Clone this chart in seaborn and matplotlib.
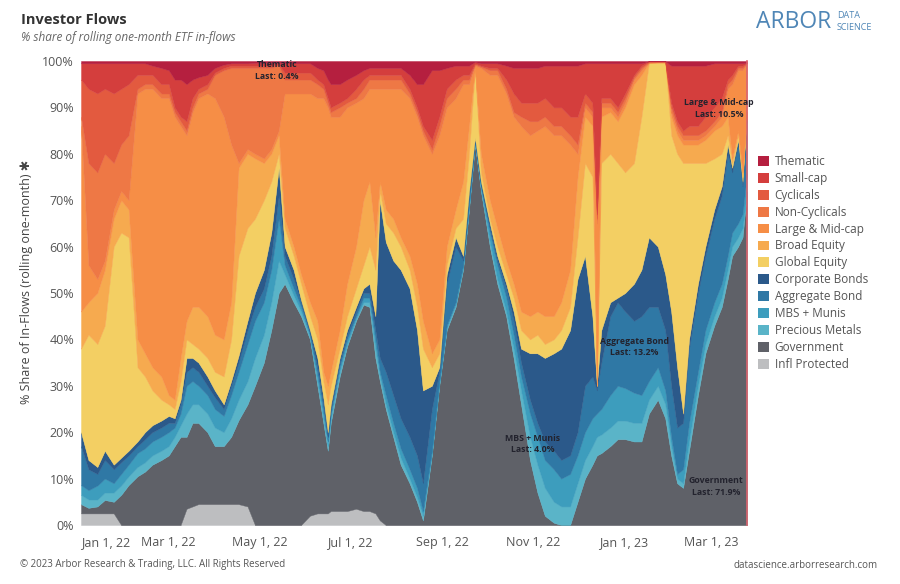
# investor_flows.py
# 100% stacked area of rolling one-month ETF in-flows by category

import pandas as pd
import matplotlib
matplotlib.use("Agg")
import matplotlib.pyplot as plt
from matplotlib.patches import Patch
import seaborn as sns

# ------------------------------
# Data (shares in %)
# ------------------------------
dates = [
    "2022-01-01", "2022-01-06", "2022-01-12", "2022-01-17", "2022-01-23", "2022-01-28", "2022-02-02", "2022-02-08", "2022-02-13", "2022-02-18",
    "2022-02-24", "2022-03-01", "2022-03-05", "2022-03-09", "2022-03-13", "2022-03-17", "2022-03-21", "2022-03-27", "2022-04-01", "2022-04-07",
    "2022-04-12", "2022-04-17", "2022-04-23", "2022-04-28", "2022-05-04", "2022-05-09", "2022-05-14", "2022-05-18", "2022-05-24", "2022-05-29",
    "2022-06-04", "2022-06-09", "2022-06-13", "2022-06-16", "2022-06-18", "2022-06-24", "2022-06-29", "2022-07-05", "2022-07-10", "2022-07-14",
    "2022-07-18", "2022-07-21", "2022-07-25", "2022-07-30", "2022-08-04", "2022-08-10", "2022-08-15", "2022-08-19", "2022-08-25", "2022-08-30",
    "2022-09-04", "2022-09-10", "2022-09-15", "2022-09-19", "2022-09-23", "2022-09-27", "2022-10-03", "2022-10-08", "2022-10-14", "2022-10-19",
    "2022-10-24", "2022-10-30", "2022-11-04", "2022-11-09", "2022-11-15", "2022-11-20", "2022-11-26", "2022-12-01", "2022-12-06", "2022-12-11",
    "2022-12-14", "2022-12-17", "2022-12-23", "2022-12-28", "2023-01-02", "2023-01-08", "2023-01-13", "2023-01-18", "2023-01-24", "2023-01-29",
    "2023-02-02", "2023-02-06", "2023-02-10", "2023-02-14", "2023-02-20", "2023-02-25", "2023-03-03", "2023-03-08", "2023-03-12", "2023-03-15",
    "2023-03-19", "2023-03-22", "2023-03-25",
]

infl_protected = [
    2.5, 2.5, 2.5, 2.5, 2.5, 0, 0, 0, 0, 0,
    0, 0, 0, 0, 3.5, 4, 4.5, 4.5, 4.5, 4.5,
    4.5, 4.5, 4, 0, 0, 0, 0, 0, 0, 0,
    2, 2.5, 2.5, 2.5, 3, 3, 3, 3.5, 3, 3,
    2.5, 1, 0, 0, 0, 0, 0, 0, 0, 0,
    0, 0, 0, 0, 0, 0, 0, 0, 0, 0,
    0, 0, 0, 0, 0, 0, 0, 0, 0, 0,
    0, 0, 0, 0, 0, 0, 0, 0, 0, 0,
    0, 0, 0, 0, 0, 0, 0, 0, 0, 0,
    0, 0, 0,
]
government = [
    2, 1.2, 1.5, 2.9, 2.5, 6.5, 8.6, 10.5, 11.5, 13,
    14, 15, 17, 19, 15.5, 18, 17.5, 15.5, 12.5, 12.5,
    14.5, 18.1, 22, 30, 35, 42, 50, 52, 48, 45,
    38, 27.5, 19.5, 13.5, 19, 29, 35.5, 40.5, 44.5, 44,
    33.5, 30, 25, 19, 13, 9, 5, 1, 15, 30,
    42, 47, 55, 68, 82, 72, 60, 52, 45, 36,
    26, 14, 7, 2, 0.5, 0, 0, 5, 10, 13,
    15, 15.5, 17, 18.5, 18.5, 18, 18, 24, 27, 23,
    15, 9, 8, 16, 28, 37, 43, 47, 53, 58,
    60, 62, 71.9,
]
precious_metals = [
    2, 1.8, 1.5, 1.6, 2, 2, 1.9, 2, 2, 2,
    2, 2, 2, 2.5, 5, 4, 4, 4, 4, 3,
    4, 4.4, 5, 6, 6, 6, 7, 2, 1.5, 1,
    0.5, 1, 1, 1, 1, 1, 0.5, 0.5, 0.5, 1,
    2, 1, 1, 1, 1.5, 1, 1, 1, 0.5, 0.5,
    0.5, 0.5, 0.5, 0.5, 0.3, 0.5, 1, 1, 1, 2,
    3, 5, 6, 6, 4.5, 4, 4, 4, 4, 4,
    4, 4, 4, 4, 4, 4, 4, 3, 3, 3,
    2, 1, 1, 2, 2, 2, 2, 2, 2, 2,
    2, 2, 0,
]
mbs_munis = [
    2.1, 2, 3, 3, 2, 2.5, 2.5, 3, 3, 3,
    3, 3, 2, 2.5, 6, 5, 4, 4, 4, 3.5,
    5, 6, 8, 8, 7, 7, 9, 2, 1.5, 1,
    0.5, 1.5, 1.5, 1, 1, 1, 1, 0.5, 1, 1,
    2, 1, 2, 2, 2, 2, 2, 1, 0.5, 0.5,
    0.5, 0.5, 0.5, 0.5, 0.3, 0.5, 2, 3, 3, 3,
    3, 5, 6, 6, 7, 6, 7, 6, 6, 6,
    5, 5.5, 7, 7.5, 7, 6.5, 6, 4, 4, 3,
    2, 1, 3, 4, 3, 3, 3, 3, 3, 3,
    3, 3, 4,
]
aggregate_bond = [
    8.4, 4.5, 2.5, 4, 3, 2.5, 2, 1.5, 2, 2,
    2, 2, 1, 2, 3, 3, 3, 2, 2.5, 1.5,
    2, 2, 3, 3, 3, 3, 5, 2, 2, 1,
    0.5, 1.5, 1.5, 1, 1, 1, 1, 1, 1, 1,
    2, 3, 5, 6, 6.5, 7, 7, 6, 9, 2,
    9, 12, 1, 2, 0.4, 0.5, 1, 1, 2, 3,
    3, 3, 3, 4, 4, 4, 4, 5, 10, 9,
    5, 10, 17, 18, 16.5, 15.5, 17, 16, 13, 13,
    11, 10, 10, 16, 17, 16, 18, 19, 22, 13,
    17, 6, 13.2,
]
corporate_bonds = [
    3, 2, 1.5, 2, 1, 1, 1, 1, 1.5, 1.5,
    1.5, 1.5, 1, 1, 3, 2, 2, 2, 1.5, 1,
    1, 1.5, 2, 3, 4, 5, 6, 2, 2, 0.5,
    0.5, 2, 1.5, 1, 1, 1, 1, 1, 1, 2,
    3, 34, 28, 29, 32, 32, 27, 20, 5, 1,
    2, 2, 1, 1, 0.5, 0.5, 1, 1, 1, 2,
    3, 10, 15, 18, 21, 24, 27, 33, 28, 13,
    1, 7, 3, 1, 4, 8, 10, 15, 13, 12,
    16, 13, 2, 2, 2, 2, 2, 2, 2, 1,
    1, 1, 0,
]
global_equity = [
    18, 27, 26.5, 27, 47, 48.5, 46, 16, 12, 7.5,
    4.5, 2.5, 2, 4, 4, 3, 3, 4, 4, 6,
    9, 21.5, 20, 16, 15, 11, 3, 4, 3, 3.5,
    3, 4, 3.5, 6, 4, 2, 3, 4, 5, 8,
    10, 2, 4, 6, 5, 4, 5, 9, 4, 3,
    2, 2, 8, 8, 14.5, 2, 1, 2, 2, 3,
    4, 3, 4, 3, 3, 4, 5, 9, 20, 30,
    0, 36, 32, 29, 26, 26, 33, 37.5, 39.6, 45.6,
    38, 46, 54, 38, 26, 18, 11, 7, 2, 1,
    1, 1, 0,
]
broad_equity = [
    8, 7, 11, 12, 6, 7, 6, 6, 5, 5,
    5, 2, 2, 5, 4, 8, 9, 9, 8, 8,
    8, 19, 16, 13, 8, 6, 4, 2, 2, 2,
    3, 4, 2, 4, 3, 4, 7, 9, 14, 14,
    7, 2, 3, 3, 2, 3, 5, 6, 3, 3,
    4, 4, 8, 6, 0.5, 4, 4, 4, 3, 3,
    4, 5, 5, 6, 5, 6, 8, 13, 10, 11,
    0, 10, 9, 9, 14, 17, 9, 0.1, 0.1, 0.1,
    4, 4, 4, 4, 4, 5, 6, 6, 4, 1,
    1, 1, 0,
]
large_mid_cap = [
    40, 8, 3, 2, 2, 2, 2, 53, 57, 60,
    60, 64, 61, 50, 40, 42, 45, 48, 51, 48,
    34, 1, 1, 1, 1, 1, 1, 27, 33, 39,
    45, 48, 59, 60, 55, 46, 38, 31, 22, 20,
    32, 20, 26, 28, 32, 34, 36, 40, 43, 44,
    30, 24, 21, 9, 0.5, 18.5, 27, 33, 36, 36,
    40, 39, 39, 41, 39, 36, 27, 5, 2, 2,
    35, 2, 1, 1, 1, 1, 1, 0.1, 0.1, 0.1,
    1, 1, 1, 1, 1, 1, 1, 2, 6, 16,
    13, 22, 10.5,
]
non_cyclicals = [
    2, 22, 23, 23, 10, 10, 14, 1, 1, 1,
    1, 1, 1, 1, 1, 1, 1, 1, 5, 10,
    16.5, 20.5, 17.5, 18.5, 19.5, 17.5, 14, 3, 3, 3,
    3, 3, 2, 1, 1, 2, 1, 1, 2, 2,
    2, 2, 2, 2, 2, 1, 1, 1, 1, 2,
    2, 2, 1, 1, 0.3, 0.3, 1, 1, 1, 1,
    2, 3, 2, 2, 2, 2, 2, 2, 1, 1,
    1, 1, 1, 1, 1, 0.5, 0.5, 0.1, 0.05, 0.05,
    1, 1, 1, 1, 1, 1, 1, 1, 1, 1,
    0.5, 0.5, 0,
]
cyclicals = [
    8, 16, 17, 14, 15, 12, 11, 3, 2, 2,
    2, 2, 1, 1, 2, 2, 1, 1, 0.5, 0.5,
    0.5, 0.5, 0.5, 0.5, 0.5, 0.5, 0.3, 1.5, 1.5, 1.5,
    1.5, 1, 1, 1, 1, 1, 1, 2, 2, 1,
    1, 1, 1, 1, 1, 1, 1, 1, 2, 2,
    2, 2, 1, 1, 0.2, 0.2, 0.5, 0.5, 2, 4,
    3, 4, 4, 4, 4, 4, 4, 6, 2, 2,
    1, 1, 1, 1, 1, 0.5, 0.5, 0.1, 0.05, 0.05,
    1, 1, 1, 2, 2, 3, 3, 3, 1, 1,
    0.5, 0.5, 0,
]
small_cap = [
    3.5, 5.5, 6.5, 5.5, 6.5, 5.5, 4.5, 2.5, 2.5, 2,
    3.5, 3, 6, 8, 8, 4, 2.5, 2, 1, 0.7,
    0.5, 0.5, 0.5, 0.6, 0.6, 0.6, 0.3, 2, 2, 2,
    2, 2.5, 3, 4, 5, 4, 4, 3, 2, 1.5,
    1.5, 1.5, 1.5, 1.5, 1.5, 3, 5, 9, 15, 10,
    4.5, 3, 2, 2, 0.3, 0.5, 1, 1, 3, 5.5,
    7.5, 7.5, 7.5, 7, 9, 9, 11, 11, 6.5, 8.5,
    32.5, 7.5, 7.5, 9.5, 6.5, 2.5, 0.5, 0.05, 0.05, 0.05,
    8, 12, 14, 13, 13, 11, 9.5, 7.5, 3.5, 2.5,
    0.5, 0.5, 0,
]
thematic = [
    0.5, 0.5, 0.5, 0.5, 0.5, 0.5, 0.5, 0.5, 0.5, 1,
    1.5, 2, 4, 4, 5, 4, 3.5, 3, 1.5, 0.8,
    0.5, 0.5, 0.5, 0.4, 0.4, 0.4, 0.4, 0.5, 0.5, 0.5,
    0.5, 1.5, 2, 4, 5, 5, 4, 3, 2, 1.5,
    1.5, 1.5, 1.5, 1.5, 1.5, 3, 5, 5, 2, 2,
    1.5, 1, 1, 1, 0.2, 0.5, 0.5, 0.5, 1, 1.5,
    1.5, 1.5, 1.5, 1, 1, 1, 1, 1, 0.5, 0.5,
    0.5, 0.5, 0.5, 0.5, 0.5, 0.5, 0.5, 0.05, 0.05, 0.05,
    1, 1, 1, 1, 1, 1, 0.5, 0.5, 0.5, 0.5,
    0.5, 0.5, 0.4,
]

# stacking order, bottom -> top
series_names = [
    "Infl Protected", "Government", "Precious Metals", "MBS + Munis",
    "Aggregate Bond", "Corporate Bonds", "Global Equity", "Broad Equity",
    "Large & Mid-cap", "Non-Cyclicals", "Cyclicals", "Small-cap", "Thematic",
]
series_colors = [
    "#bdbec0", "#5f6168", "#5ab4c8", "#3d9dbd",
    "#2f78a5", "#2b598a", "#f3cf63", "#f6aa4f",
    "#f68e46", "#ee7845", "#e35a3f", "#d43e3d", "#b51f3f",
]

tick_dates = ["2022-01-01", "2022-03-01", "2022-05-01", "2022-07-01",
              "2022-09-01", "2022-11-01", "2023-01-01", "2023-03-01"]
tick_labels = ["Jan 1, 22", "Mar 1, 22", "May 1, 22", "Jul 1, 22",
               "Sep 1, 22", "Nov 1, 22", "Jan 1, 23", "Mar 1, 23"]

# "Last" labels placed on the chart: (text, date, y)
callouts = [
    ("Thematic\nLast: 0.4%", "2022-05-13", 98.0),
    ("MBS + Munis\nLast: 4.0%", "2022-11-01", 17.5),
    ("Aggregate Bond\nLast: 13.2%", "2023-01-08", 38.4),
    ("Large & Mid-cap\nLast: 10.5%", "2023-03-06", 89.8),
    ("Government\nLast: 71.9%", "2023-03-04", 8.3),
]

# ------------------------------
# Build table, normalise each day to 100%
# ------------------------------
df = pd.DataFrame({
    "Infl Protected": infl_protected,
    "Government": government,
    "Precious Metals": precious_metals,
    "MBS + Munis": mbs_munis,
    "Aggregate Bond": aggregate_bond,
    "Corporate Bonds": corporate_bonds,
    "Global Equity": global_equity,
    "Broad Equity": broad_equity,
    "Large & Mid-cap": large_mid_cap,
    "Non-Cyclicals": non_cyclicals,
    "Cyclicals": cyclicals,
    "Small-cap": small_cap,
    "Thematic": thematic,
}, index=pd.to_datetime(dates))
shares = df[series_names].div(df[series_names].sum(axis=1), axis=0) * 100

# ------------------------------
# Plot
# ------------------------------
sns.set_theme(style="white")
plt.rcParams["font.family"] = ["Open Sans", "DejaVu Sans"]
palette = sns.color_palette(series_colors)

fig = plt.figure(figsize=(9, 5.84), dpi=100)
ax = fig.add_axes([81 / 900, 1 - 525 / 584, 666 / 900, 464 / 584])

polys = ax.stackplot(shares.index, shares.T.values, colors=palette, linewidth=0)
for p, c in zip(polys, palette):
    p.set_edgecolor(c)
    p.set_linewidth(0.3)

ax.set_xlim(shares.index[0], shares.index[-1])
ax.set_ylim(0, 100)

ax.set_xticks(pd.to_datetime(tick_dates))
ax.set_xticklabels(tick_labels)
ax.get_xticklabels()[0].set_horizontalalignment("left")
ax.set_yticks(range(0, 101, 10))
ax.set_yticklabels([f"{v}%" for v in range(0, 101, 10)])
ax.tick_params(axis="x", length=0, pad=8, labelsize=9, labelcolor="#555555")
ax.tick_params(axis="y", length=0, pad=5, labelsize=9, labelcolor="#555555")

ax.set_xlabel("")
ax.set_ylabel("% Share of In-Flows (rolling one-month) \u2731", fontsize=9, color="#444444")
ax.yaxis.set_label_coords(-0.072, 0.524)

for side in ["top", "left", "bottom"]:
    ax.spines[side].set_visible(False)
ax.spines["right"].set_color("#d9646f")
ax.spines["right"].set_linewidth(1.2)

for text, d, y in callouts:
    ax.text(pd.Timestamp(d), y, text, ha="center", va="center", fontsize=6.3,
            fontweight="bold", color="#23232e", linespacing=1.35)

# legend, top entry = top of the stack
handles = [Patch(facecolor=c, edgecolor="none", label=n)
           for n, c in zip(series_names[::-1], list(palette)[::-1])]
fig.legend(handles=handles, loc="upper left", bbox_to_anchor=(758 / 900, 1 - 155 / 584),
           frameon=False, fontsize=8.5, handlelength=0.9, handleheight=0.9,
           handletextpad=0.5, labelspacing=0.33, borderaxespad=0, borderpad=0,
           labelcolor="#555555")

# titles, logo, footer
fig.text(21 / 900, 1 - 20 / 584, "Investor Flows", fontsize=10.5, fontweight="bold",
         color="#333333", va="center")
fig.text(21 / 900, 1 - 37 / 584, "% share of rolling one-month ETF in-flows", fontsize=8.5,
         style="italic", color="#666666", va="center")
fig.text(756 / 900, 1 - 22 / 584, "ARBOR", fontsize=16.5, color="#4f86b6", va="center")
fig.text(837 / 900, 1 - 16 / 584, "DATA", fontsize=6.5, color="#4f86b6", va="center")
fig.text(837 / 900, 1 - 27 / 584, "SCIENCE", fontsize=6.5, color="#4f86b6", va="center")
fig.text(20 / 900, 1 - 565 / 584, "\u00a9 2023 Arbor Research & Trading, LLC. All Rights Reserved",
         fontsize=7, color="#555555", va="center")
fig.text(878 / 900, 1 - 565 / 584, "datascience.arborresearch.com", fontsize=7,
         color="#555555", va="center", ha="right")

fig.savefig("out.png", dpi=100)
